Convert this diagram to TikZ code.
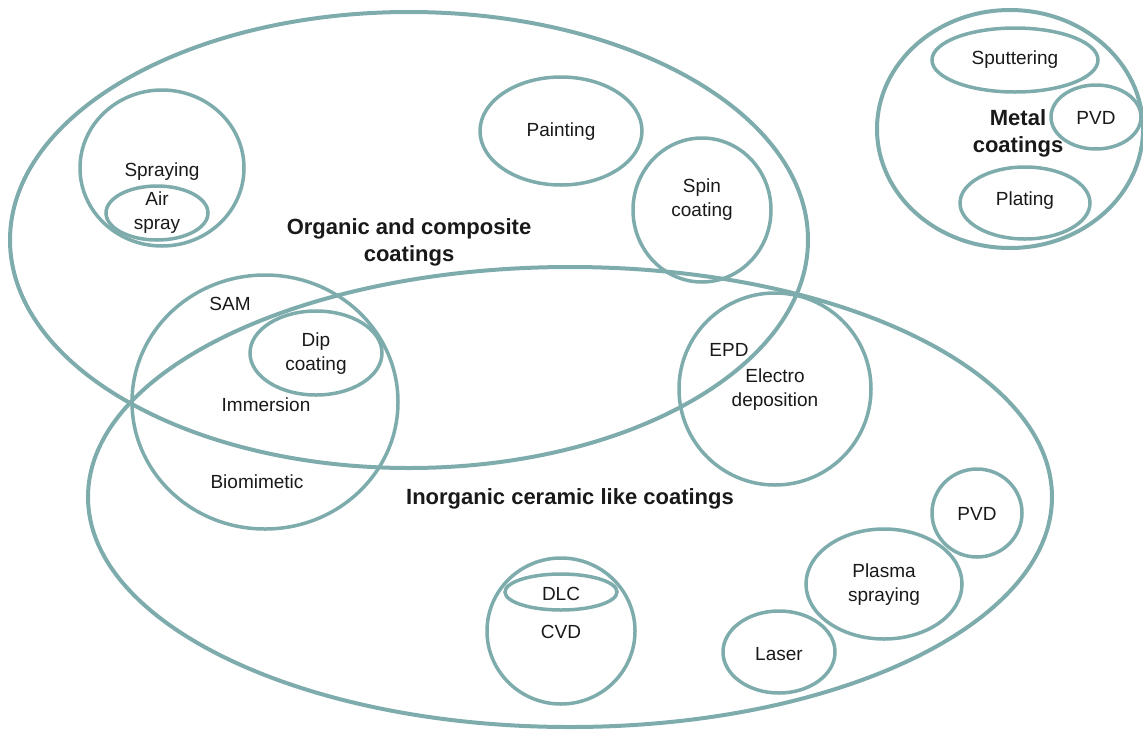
\documentclass[tikz,border=0pt]{standalone}
\usepackage{fontspec}
\setmainfont{Liberation Sans}
\usetikzlibrary{shapes.geometric}
\definecolor{ring}{RGB}{126,172,172}
\tikzset{
  ring/.style={draw=ring, line width=3.5pt, ellipse, inner sep=0pt},
  bigring/.style={ring, line width=4pt},
  lbl/.style={font=\fontsize{19}{24}\selectfont, text=black!90, inner sep=0pt, align=center},
  blbl/.style={font=\fontsize{22}{27}\selectfont\bfseries, text=black!90, inner sep=0pt, align=center}
}
\begin{document}
\begin{tikzpicture}[x=1pt,y=-1pt]
\useasboundingbox (0,0) rectangle (1143,729);
% big groups
\node[bigring, minimum width=798pt, minimum height=456pt] (organic) at (409,240) {};
\node[bigring, minimum width=964pt, minimum height=460pt] (inorganic) at (570,497) {};
\node[bigring, minimum width=266pt, minimum height=238pt] (metal) at (1010,129) {};
% organic members
\node[ring, minimum width=164pt, minimum height=156pt] (spraying) at (162,168) {};
\node[ring, minimum width=102pt, minimum height=54pt] (airspray) at (157,213) {};
\node[ring, minimum width=162pt, minimum height=108pt] (painting) at (561,131) {};
\node[ring, minimum width=138pt, minimum height=144pt] (spin) at (702,210) {};
% shared
\node[ring, minimum width=266pt, minimum height=254pt] (immersion) at (265,402) {};
\node[ring, minimum width=132pt, minimum height=84pt] (dip) at (316,353) {};
\node[ring, minimum width=192pt, minimum height=192pt] (epd) at (775,389) {};
% inorganic members
\node[ring, minimum width=90pt, minimum height=88pt] (pvdlow) at (977,513) {};
\node[ring, minimum width=156pt, minimum height=110pt] (plasma) at (884,584) {};
\node[ring, minimum width=112pt, minimum height=82pt] (laser) at (779,652) {};
\node[ring, minimum width=148pt, minimum height=146pt] (cvd) at (561,631) {};
\node[ring, minimum width=112pt, minimum height=36pt] (dlc) at (561,592) {};
% metal members
\node[ring, minimum width=166pt, minimum height=64pt] (sputtering) at (1015,60) {};
\node[ring, minimum width=90pt, minimum height=64pt] (pvdmetal) at (1096,117) {};
\node[ring, minimum width=130pt, minimum height=72pt] (plating) at (1025,203) {};
% labels
\node[blbl] (organictxt) at (409,242) {Organic and composite\\coatings};
\node[blbl] (inorganictxt) at (570,499) {Inorganic ceramic like coatings};
\node[blbl] (metaltxt) at (1018,133) {Metal\\coatings};
\node[lbl] (sprayingtxt) at (162,172) {Spraying};
\node[lbl] (airspraytxt) at (157,213) {Air\\spray};
\node[lbl] (paintingtxt) at (561,132) {Painting};
\node[lbl] (spintxt) at (702,200) {Spin\\coating};
\node[lbl] (samtxt) at (230,304) {SAM};
\node[lbl] (diptxt) at (316,354) {Dip\\coating};
\node[lbl] (immersiontxt) at (266,405) {Immersion};
\node[lbl] (biotxt) at (257,482) {Biomimetic};
\node[lbl] (epdtxt) at (729,350) {EPD};
\node[lbl] (electrotxt) at (775,390) {Electro\\deposition};
\node[lbl] (pvdlowtxt) at (977,514) {PVD};
\node[lbl] (plasmatxt) at (884,585) {Plasma\\spraying};
\node[lbl] (lasertxt) at (779,654) {Laser};
\node[lbl] (dlctxt) at (561,594) {DLC};
\node[lbl] (cvdtxt) at (561,632) {CVD};
\node[lbl] (sputteringtxt) at (1015,60) {Sputtering};
\node[lbl] (pvdmetaltxt) at (1096,118) {PVD};
\node[lbl] (platingtxt) at (1025,201) {Plating};
\end{tikzpicture}
\end{document}
